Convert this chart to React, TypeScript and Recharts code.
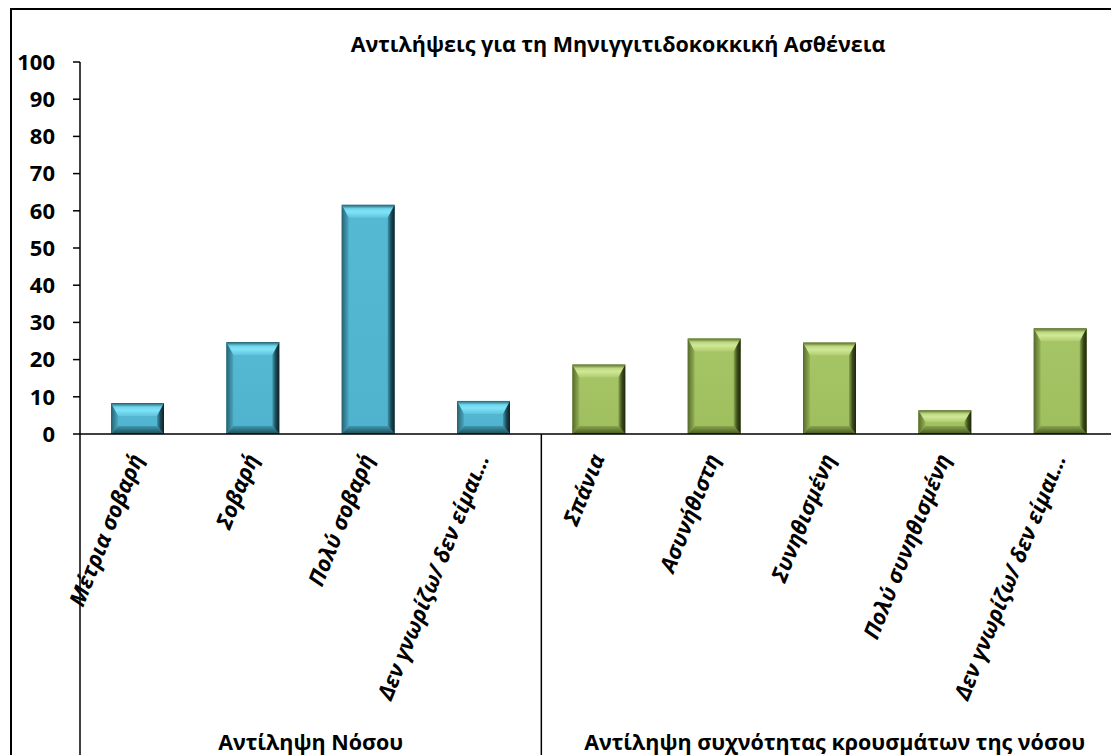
import React from 'react';
import { BarChart, Bar, XAxis, YAxis } from 'recharts';

const title = 'Αντιλήψεις για τη Μηνιγγιτιδοκοκκική Ασθένεια';
const categories = [
  'Μέτρια σοβαρή',
  'Σοβαρή',
  'Πολύ σοβαρή',
  'Δεν γνωρίζω/ δεν είμαι…',
  'Σπάνια',
  'Ασυνήθιστη',
  'Συνηθισμένη',
  'Πολύ συνηθισμένη',
  'Δεν γνωρίζω/ δεν είμαι…',
];
const values = [8.3, 24.7, 61.6, 8.9, 18.7, 25.7, 24.6, 6.4, 28.4];
const groupOf = [0, 0, 0, 0, 1, 1, 1, 1, 1];
const groupLabels = ['Αντίληψη Νόσου', 'Αντίληψη συχνότητας κρουσμάτων της νόσου'];
const yTicks = [0, 10, 20, 30, 40, 50, 60, 70, 80, 90, 100];

const data = categories.map((name, i) => ({ id: i, name, value: values[i], group: groupOf[i] }));

const FONT = '"Open Sans", "Noto Sans", sans-serif';
const CHART_W = 1111;
const CHART_H = 747;

const BevelBar = (props: any) => {
  const { x, y, width: w, height: h, payload } = props;
  if (!h || h <= 0) return null;
  const p = payload.group === 0 ? 'bl' : 'gr';
  const s = Math.min(7, w / 2);
  const t = Math.min(13, h / 2);
  const b = Math.min(8, h / 2);
  return (
    <g>
      <rect x={x} y={y} width={w} height={h} fill={`url(#${p}-mid)`} />
      <polygon
        points={`${x},${y} ${x + w},${y} ${x + w - s},${y + t} ${x + s},${y + t}`}
        fill={`url(#${p}-top)`}
      />
      <polygon
        points={`${x},${y + h} ${x + w},${y + h} ${x + w - s},${y + h - b} ${x + s},${y + h - b}`}
        fill={`url(#${p}-bot)`}
      />
      <polygon
        points={`${x},${y} ${x + s},${y + t} ${x + s},${y + h - b} ${x},${y + h}`}
        fill={`url(#${p}-left)`}
      />
      <polygon
        points={`${x + w},${y} ${x + w - s},${y + t} ${x + w - s},${y + h - b} ${x + w},${y + h}`}
        fill={`url(#${p}-right)`}
      />
    </g>
  );
};

const CatTick = (props: any) => {
  const { x, y, payload, width } = props;
  const i = Number(payload.value);
  const band = (width || CHART_W - 73) / categories.length;
  const half = band / 2;
  const bottom = CHART_H;
  const g = groupOf[i];
  const isStart = i === 0 || groupOf[i - 1] !== g;
  const isLast = i === categories.length - 1;
  let n = 0;
  for (let k = i; k < groupOf.length && groupOf[k] === g; k++) n++;
  const ax = x + 6;
  const ay = y + 24;
  return (
    <g>
      {isStart && (
        <>
          <line x1={x - half} y1={y} x2={x - half} y2={bottom} stroke="#000" strokeWidth={1.5} />
          <text
            x={x - half + n * half + (g === 1 ? 5 : 0)}
            y={bottom - 5}
            textAnchor="middle"
            fontFamily={FONT}
            fontWeight={700}
            fontSize={21.5}
            fill="#000"
          >
            {groupLabels[g]}
          </text>
        </>
      )}
      {isLast && (
        <line x1={x + half} y1={y} x2={x + half} y2={bottom} stroke="#000" strokeWidth={1.5} />
      )}
      <text
        x={ax}
        y={ay}
        transform={`rotate(-68, ${ax}, ${ay})`}
        textAnchor="end"
        fontFamily={FONT}
        fontWeight={700}
        fontStyle="italic"
        fontSize={22}
        fill="#000"
      >
        {categories[i]}
      </text>
    </g>
  );
};

const Grad = ({ id, stops, vertical }: { id: string; stops: [number, string][]; vertical: boolean }) => (
  <linearGradient id={id} x1="0" y1="0" x2={vertical ? '0' : '1'} y2={vertical ? '1' : '0'}>
    {stops.map(([o, c], k) => (
      <stop key={k} offset={o} stopColor={c} />
    ))}
  </linearGradient>
);

export default function App() {
  return (
    <div style={{ position: 'relative', width: CHART_W, height: CHART_H }}>
      <svg width={0} height={0} style={{ position: 'absolute' }}>
        <defs>
          <Grad id="bl-mid" vertical stops={[[0, '#55b9d3'], [1, '#4fb3cd']]} />
          <Grad id="bl-top" vertical stops={[[0, '#245f6e'], [0.3, '#6fd6ee'], [0.55, '#80e4f8'], [1, '#5ec3dc']]} />
          <Grad id="bl-bot" vertical stops={[[0, '#3c98b0'], [1, '#1f4b57']]} />
          <Grad id="bl-left" vertical={false} stops={[[0, '#27606f'], [1, '#4aa8c1']]} />
          <Grad id="bl-right" vertical={false} stops={[[0, '#3d98b0'], [0.5, '#1d4853'], [1, '#0c1f24']]} />
          <Grad id="gr-mid" vertical stops={[[0, '#a6c566'], [1, '#9fbe5e']]} />
          <Grad id="gr-top" vertical stops={[[0, '#55692b'], [0.3, '#bcd880'], [0.55, '#cfe897'], [1, '#afcc6d']]} />
          <Grad id="gr-bot" vertical stops={[[0, '#88a64c'], [1, '#46591f']]} />
          <Grad id="gr-left" vertical={false} stops={[[0, '#56692b'], [1, '#94b356']]} />
          <Grad id="gr-right" vertical={false} stops={[[0, '#8aa84e'], [0.5, '#3d4d1d'], [1, '#1d250c']]} />
        </defs>
      </svg>
      <div
        style={{
          position: 'absolute',
          left: 2,
          top: 0,
          width: 1108,
          height: 747,
          border: '2px solid #000',
          borderBottom: 'none',
          boxSizing: 'border-box',
          pointerEvents: 'none',
        }}
      />
      <div
        style={{
          position: 'absolute',
          left: 0,
          width: 1220,
          top: 22,
          textAlign: 'center',
          fontFamily: FONT,
          fontWeight: 700,
          fontSize: 21.5,
          color: '#000',
          lineHeight: '28px',
          whiteSpace: 'nowrap',
        }}
      >
        {title}
      </div>
      <BarChart
        width={CHART_W}
        height={CHART_H}
        data={data}
        margin={{ top: 54, right: 1, bottom: 0, left: 0 }}
      >
        <XAxis
          dataKey="id"
          type="category"
          interval={0}
          height={321}
          tickLine={false}
          tickSize={0}
          tickMargin={0}
          axisLine={{ stroke: '#000', strokeWidth: 1.5 }}
          tick={<CatTick />}
        />
        <YAxis
          type="number"
          domain={[0, 100]}
          ticks={yTicks}
          interval={0}
          width={72}
          tickSize={7}
          tickMargin={18}
          axisLine={{ stroke: '#000', strokeWidth: 1.5 }}
          tickLine={{ stroke: '#000', strokeWidth: 1.5 }}
          tick={{ fontFamily: FONT, fontWeight: 700, fontSize: 22, fill: '#000' }}
        />
        <Bar dataKey="value" barSize={53} isAnimationActive={false} shape={<BevelBar />} />
      </BarChart>
    </div>
  );
}
